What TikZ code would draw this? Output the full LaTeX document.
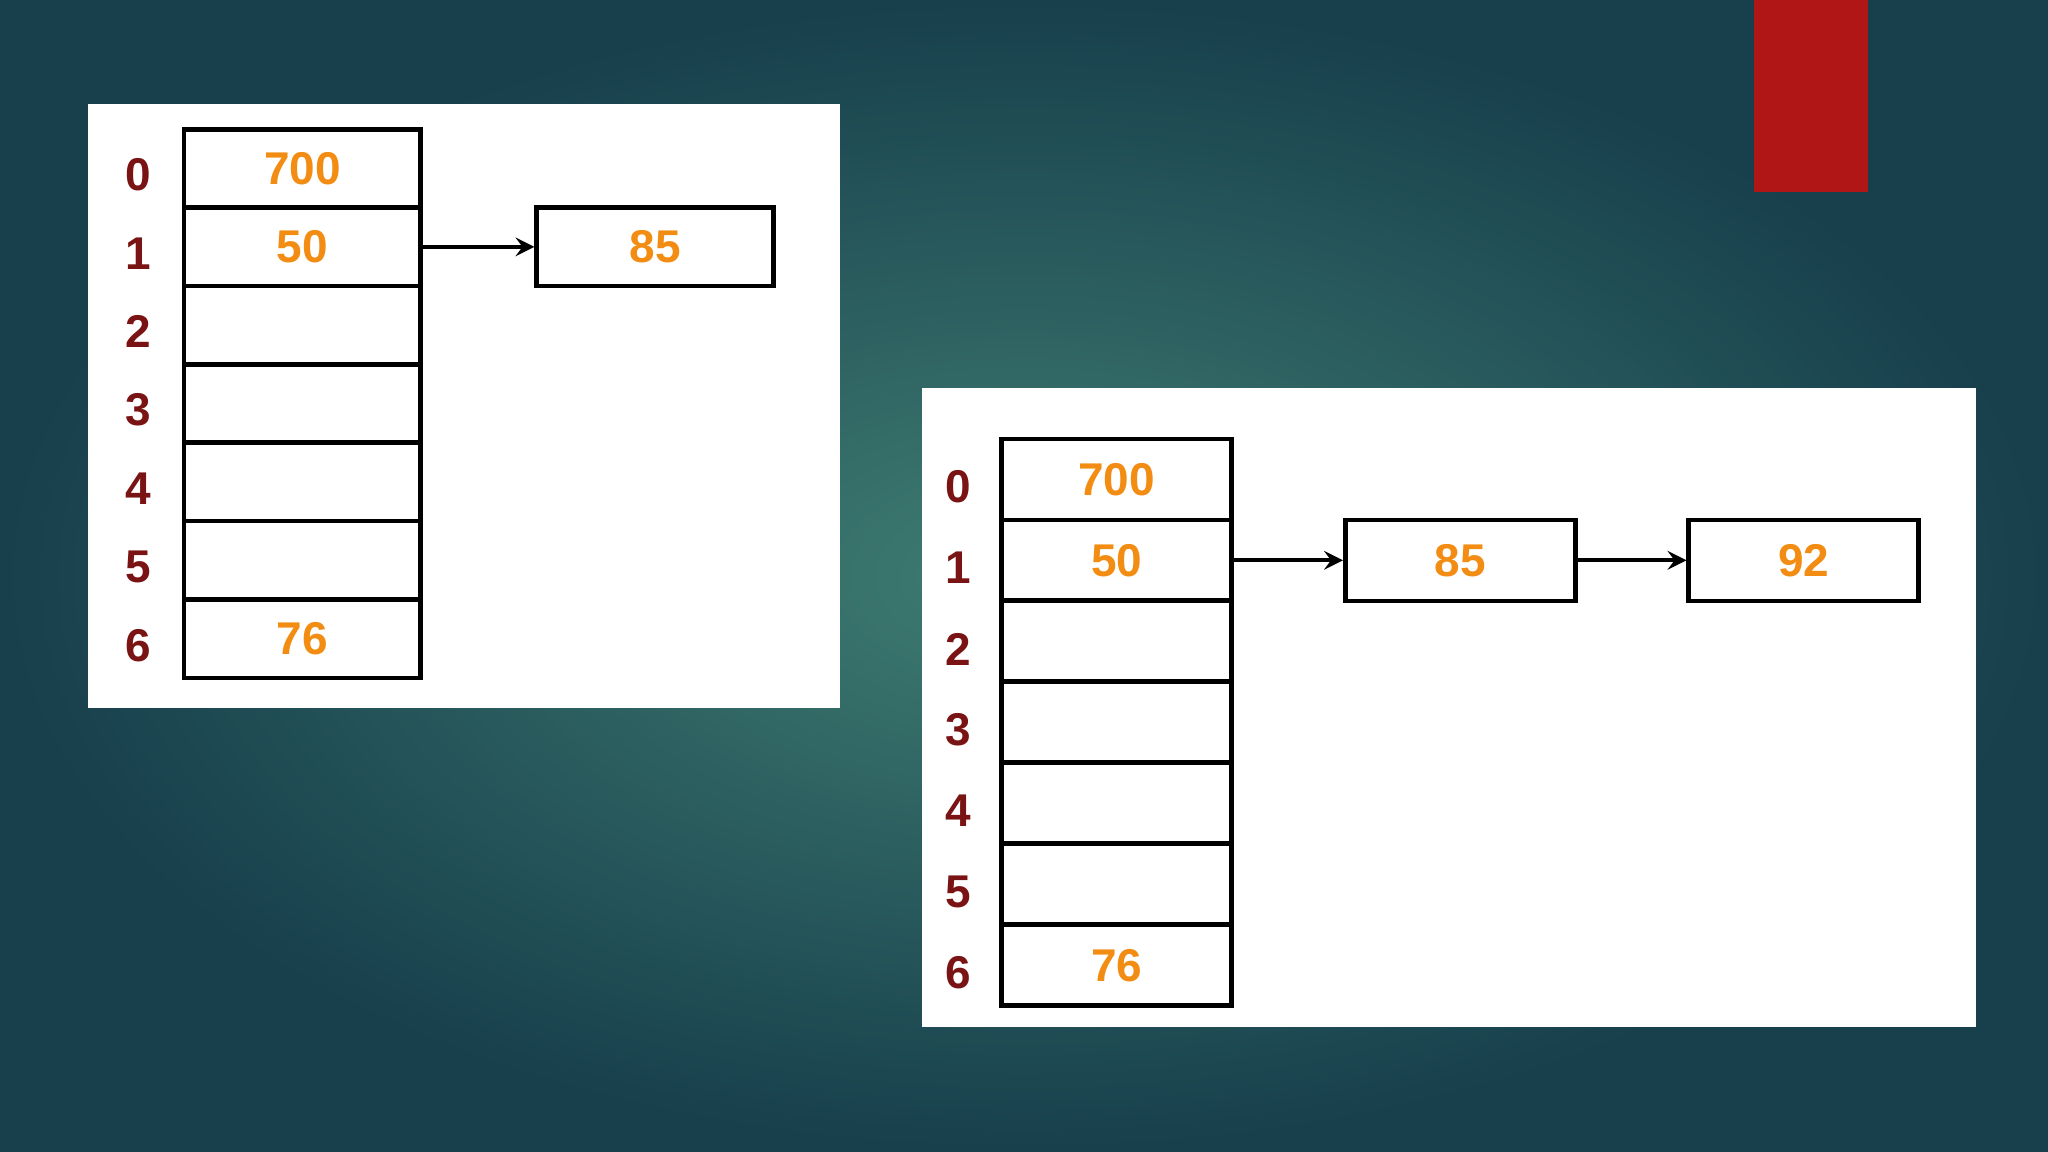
\documentclass[tikz,border=0pt]{standalone}
\usepackage{fontspec}
\setmainfont{Liberation Sans}
\definecolor{bgin}{HTML}{3F7D72}
\definecolor{bgout}{HTML}{173F4C}
\definecolor{idx}{HTML}{7A1414}
\definecolor{val}{HTML}{F28C12}
\definecolor{redbar}{HTML}{B01616}
\begin{document}
\begin{tikzpicture}[x=0.01cm,y=-0.01cm,
  cell/.style={draw=black,line width=1pt,minimum width=#1,inner sep=0pt,font=\bfseries\fontsize{10}{12}\selectfont,text=val},
  lbl/.style={font=\bfseries\fontsize{10}{12}\selectfont,text=idx},
  arr/.style={-stealth,line width=0.8pt}]
\useasboundingbox (0,0) rectangle (1568,882);
\shade[inner color=bgin,outer color=bgout] (0,0) rectangle (1568,882);
\fill[redbar] (1343,0) rectangle (1430,147);
% left panel
\fill[white] (67,80) rectangle (643,542);
\foreach \i/\v in {0/700,1/50,2/,3/,4/,5/,6/76}{
  \node[cell=1.81cm,minimum height=0.6cm] (L\i) at (231.5,{129+60*\i}) {\v};
  \node[lbl] (LI\i) at (106,{134+60*\i}) {\i};
}
\node[cell=1.81cm,minimum height=0.6cm] (L85) at (501.5,189) {85};
\draw[arr] (L1.east) -- (L85.west);
% right panel
\fill[white] (706,297) rectangle (1513,786);
\foreach \i/\v in {0/700,1/50,2/,3/,4/,5/,6/76}{
  \node[cell=1.76cm,minimum height=0.62cm] (R\i) at (855,{367+62*\i}) {\v};
  \node[lbl] (RI\i) at (734,{373+62*\i}) {\i};
}
\node[cell=1.76cm,minimum height=0.62cm] (R85) at (1118,429) {85};
\node[cell=1.76cm,minimum height=0.62cm] (R92) at (1381,429) {92};
\draw[arr] (R1.east) -- (R85.west);
\draw[arr] (R85.east) -- (R92.west);
\end{tikzpicture}
\end{document}
